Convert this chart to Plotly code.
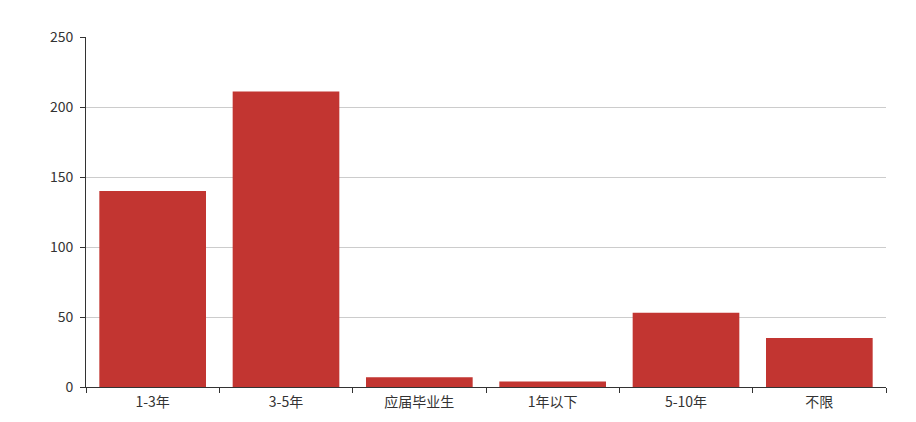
import plotly.graph_objects as go

categories = ["1-3年", "3-5年", "应届毕业生", "1年以下", "5-10年", "不限"]
counts = [140, 211, 7, 4, 53, 35]
y_ticks = [0, 50, 100, 150, 200, 250]

fig = go.Figure()

fig.add_trace(go.Bar(
    x=categories,
    y=counts,
    marker=dict(color="#c23531", line=dict(width=0)),
))

# page body has an 8px margin, so the figure is sized to fit inside it
fig.update_layout(
    width=900,
    height=406,
    margin=dict(l=78, r=22, t=29, b=27),
    plot_bgcolor="white",
    paper_bgcolor="white",
    bargap=0.2,
    showlegend=False,
    font=dict(family="Noto Sans CJK SC, Noto Sans, sans-serif", size=14, color="#333"),
    xaxis=dict(
        showline=True, linecolor="#333", linewidth=1,
        ticks="outside", tickson="boundaries", ticklen=5, tickcolor="#333",
        ticklabelstandoff=2, automargin=False,
        showgrid=False,
    ),
    yaxis=dict(
        range=[0, 250], tickvals=y_ticks,
        showline=True, linecolor="#333", linewidth=1,
        ticks="outside", ticklen=5, tickcolor="#333",
        ticklabelstandoff=4, automargin=False,
        showgrid=True, gridcolor="#ccc", gridwidth=1,
        zeroline=False,
    ),
)

fig.write_html("out.html")
